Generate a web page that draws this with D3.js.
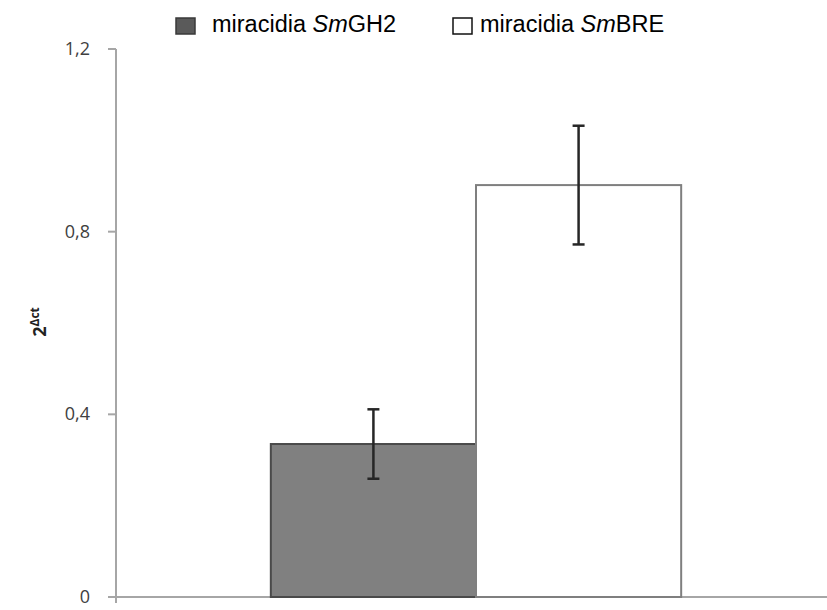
<!DOCTYPE html>
<html>
<head>
<meta charset="utf-8">
<script src="https://cdn.jsdelivr.net/npm/d3@7"></script>
<style>
  body { margin: 0; background: #fff; }
  svg { display: block; }
</style>
</head>
<body>
<script>
// data
const series = ["GH2", "BRE"];
const values = [0.335, 0.902];
const errors = [0.076, 0.13];
const fills = ["#808080", "#ffffff"];
const strokes = ["#4a4a4a", "#7f7f7f"];
const yTicks = [0, 0.4, 0.8, 1.2];

const width = 827;
const height = 610;
const plotLeft = 116;
const plotRight = 833;
const plotTop = 49;
const plotBottom = 597;

const svg = d3.select("body")
  .append("svg")
    .attr("width", width)
    .attr("height", height);

const yScale = d3.scaleLinear()
  .domain([0, 1.2])
  .range([plotBottom, plotTop]);

const xScale = d3.scaleBand()
  .domain(series)
  .range([plotLeft + 3, plotRight])
  .paddingInner(0)
  .paddingOuter(0.74);

// axes
svg.append("line")
  .attr("x1", plotLeft).attr("x2", plotLeft)
  .attr("y1", plotTop).attr("y2", plotBottom + 6)
  .attr("stroke", "#a6a6a6").attr("stroke-width", 2);

svg.append("line")
  .attr("x1", plotLeft - 8).attr("x2", width)
  .attr("y1", plotBottom).attr("y2", plotBottom)
  .attr("stroke", "#a6a6a6").attr("stroke-width", 2);

svg.selectAll(".tick")
  .data(yTicks)
  .enter()
  .append("line")
    .attr("x1", plotLeft - 8).attr("x2", plotLeft)
    .attr("y1", function(d) { return yScale(d); })
    .attr("y2", function(d) { return yScale(d); })
    .attr("stroke", "#a6a6a6").attr("stroke-width", 2);

svg.selectAll(".ticklabel")
  .data(yTicks)
  .enter()
  .append("text")
    .attr("x", 90)
    .attr("y", function(d) { return yScale(d) + 6; })
    .attr("text-anchor", "end")
    .attr("font-family", "Open Sans, sans-serif")
    .attr("font-size", 18)
    .attr("fill", "#404040")
    .text(function(d) { return d === 0 ? "0" : d.toFixed(1).replace(".", ","); });

// y label
const ylab = svg.append("text")
  .attr("transform", "translate(46,322) rotate(-90)")
  .attr("text-anchor", "middle")
  .attr("font-family", "Open Sans, sans-serif")
  .attr("font-weight", "bold")
  .attr("font-size", 18)
  .attr("fill", "#222");
ylab.append("tspan").text("2");
ylab.append("tspan").attr("dy", -7).attr("font-size", 12).text("Δct");

// bars
svg.selectAll(".bar")
  .data(values)
  .enter()
  .append("rect")
    .attr("x", function(d, i) { return xScale(series[i]); })
    .attr("y", function(d) { return yScale(d); })
    .attr("width", xScale.bandwidth())
    .attr("height", function(d) { return yScale(0) - yScale(d); })
    .attr("fill", function(d, i) { return fills[i]; })
    .attr("stroke", function(d, i) { return strokes[i]; })
    .attr("stroke-width", 2);

// error bars
const cx = function(i) { return xScale(series[i]) + xScale.bandwidth() / 2; };

svg.selectAll(".err")
  .data(values)
  .enter()
  .append("line")
    .attr("x1", function(d, i) { return cx(i); })
    .attr("x2", function(d, i) { return cx(i); })
    .attr("y1", function(d, i) { return yScale(d + errors[i]); })
    .attr("y2", function(d, i) { return yScale(d - errors[i]); })
    .attr("stroke", "#262626").attr("stroke-width", 2.5);

[1, -1].forEach(function(s) {
  svg.selectAll(".cap" + s)
    .data(values)
    .enter()
    .append("line")
      .attr("x1", function(d, i) { return cx(i) - 6; })
      .attr("x2", function(d, i) { return cx(i) + 6; })
      .attr("y1", function(d, i) { return yScale(d + s * errors[i]); })
      .attr("y2", function(d, i) { return yScale(d + s * errors[i]); })
      .attr("stroke", "#262626").attr("stroke-width", 2.5);
});

// legend
const legendX = [176, 453];
const legend = svg.selectAll(".legend")
  .data(series)
  .enter()
  .append("g")
    .attr("transform", function(d, i) { return "translate(" + legendX[i] + ",0)"; });

legend.append("rect")
  .attr("x", 0).attr("y", 18)
  .attr("width", 19).attr("height", 16)
  .attr("fill", function(d, i) { return i === 0 ? "#5a5a5a" : "#fff"; })
  .attr("stroke", function(d, i) { return i === 0 ? "#3a3a3a" : "#111"; })
  .attr("stroke-width", 1.5);

const lt = legend.append("text")
  .attr("x", function(d, i) { return i === 0 ? 36 : 27; })
  .attr("y", 32)
  .attr("font-family", "Liberation Sans, Arial, sans-serif")
  .attr("font-size", 23.5)
  .attr("fill", "#000");
lt.append("tspan").text("miracidia ");
lt.append("tspan").attr("font-style", "italic").text("Sm");
lt.append("tspan").text(function(d) { return d; });
</script>
</body>
</html>
